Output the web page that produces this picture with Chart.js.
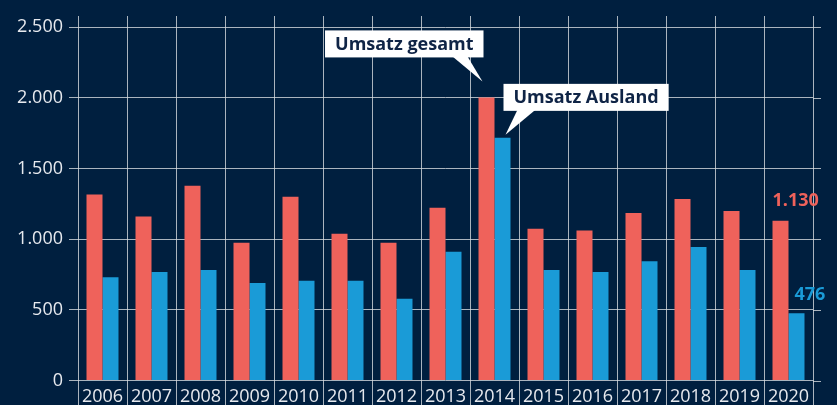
<!DOCTYPE html>
<html lang="de">
<head>
<meta charset="utf-8">
<title>Umsatz gesamt / Umsatz Ausland 2006–2020</title>
<script src="https://cdn.jsdelivr.net/npm/chart.js@4/dist/chart.umd.min.js"></script>
<style>
  html, body { margin: 0; padding: 0; background: #001f3f; }
  #wrap { position: relative; width: 837px; height: 405px; }
</style>
</head>
<body>
<div id="wrap"><canvas id="chart"></canvas></div>
<script>
// data
const years = ['2006', '2007', '2008', '2009', '2010', '2011', '2012', '2013',
               '2014', '2015', '2016', '2017', '2018', '2019', '2020'];
const totalRevenue   = [1315, 1160, 1378, 975, 1300, 1038, 975, 1222, 2002, 1074, 1060, 1185, 1284, 1199, 1130];
const foreignRevenue = [ 731,  767,  781, 690,  706,  706, 578,  911, 1716,  781,  767,  843,  944,  781,  476];
const seriesNames = ['Umsatz gesamt', 'Umsatz Ausland'];
const yTicks = [0, 500, 1000, 1500, 2000, 2500];

const RED = '#ef625b';
const BLUE = '#1a9bd7';
const GRID = 'rgba(212,217,223,0.8)';
const TEXT = '#e6e9ee';
const NAVY = '#0f2446';
const FONT = '"Open Sans", "DejaVu Sans", sans-serif';

// 1.130 style thousands separator
const fmt = v => String(v).replace(/\B(?=(\d{3})+(?!\d))/g, '.');

// extends grid lines past the plot area, draws callouts and end labels
const decorations = {
  id: 'decorations',
  afterDraw(chart) {
    const { ctx, chartArea: area, scales: { x, y } } = chart;
    const half = (x.getPixelForValue(1) - x.getPixelForValue(0)) / 2;

    ctx.save();
    ctx.strokeStyle = GRID;
    ctx.lineWidth = 1;
    // vertical lines run a bit above the top tick and down to the bottom edge
    for (let i = 0; i <= years.length; i++) {
      const px = Math.round(x.getPixelForValue(i) - half) + 0.5;
      ctx.beginPath();
      ctx.moveTo(px, area.top - 11);
      ctx.lineTo(px, area.top);
      ctx.moveTo(px, area.bottom);
      ctx.lineTo(px, chart.height);
      ctx.stroke();
    }
    // horizontal lines poke out on the right
    for (const t of yTicks) {
      const py = Math.round(y.getPixelForValue(t)) + 0.5;
      ctx.beginPath();
      ctx.moveTo(area.right, py);
      ctx.lineTo(area.right + 8, py);
      ctx.stroke();
    }

    const redBars = chart.getDatasetMeta(0).data;
    const blueBars = chart.getDatasetMeta(1).data;
    const peak = totalRevenue.indexOf(Math.max(...totalRevenue));

    ctx.font = `bold 18px ${FONT}`;
    const callout = (text, tipX, tipY, anchorRight, baseA, baseB) => {
      const w = ctx.measureText(text).width + 20;
      const bottom = tipY - 24, top = bottom - 27;
      const left = anchorRight ? tipX + 1 - w : tipX - 2;
      ctx.fillStyle = '#ffffff';
      ctx.fillRect(left, top, w, 27);
      ctx.beginPath();
      ctx.moveTo(tipX + baseA, bottom - 1);
      ctx.lineTo(tipX, tipY);
      ctx.lineTo(tipX + baseB, bottom - 1);
      ctx.closePath();
      ctx.fill();
      ctx.fillStyle = NAVY;
      ctx.textAlign = 'left';
      ctx.textBaseline = 'middle';
      ctx.fillText(text, left + 10, top + 14);
    };
    const r = redBars[peak], b = blueBars[peak];
    callout(seriesNames[0], r.x - 4, r.y - 16, true, -30, -15);
    callout(seriesNames[1], b.x + 3, b.y - 3, false, 12, 30);

    // values of the last year
    const last = years.length - 1;
    ctx.textAlign = 'left';
    ctx.textBaseline = 'middle';
    ctx.fillStyle = RED;
    ctx.fillText(fmt(totalRevenue[last]), redBars[last].x - 8, redBars[last].y - 20);
    ctx.fillStyle = BLUE;
    ctx.fillText(fmt(foreignRevenue[last]), blueBars[last].x - 2, blueBars[last].y - 18);
    ctx.restore();
  }
};

new Chart(document.getElementById('chart'), {
  type: 'bar',
  data: {
    labels: years,
    datasets: [
      { label: seriesNames[0], data: totalRevenue, backgroundColor: RED },
      { label: seriesNames[1], data: foreignRevenue, backgroundColor: BLUE }
    ]
  },
  options: {
    responsive: true,
    maintainAspectRatio: false,
    animation: false,
    layout: { padding: { top: 27, right: 24, left: 0, bottom: 0 } },
    plugins: { legend: { display: false }, tooltip: { enabled: false } },
    datasets: { bar: { categoryPercentage: 0.653, barPercentage: 1.0 } },
    scales: {
      x: {
        grid: { offset: true, color: GRID, lineWidth: 1, drawTicks: false },
        border: { display: false },
        ticks: { color: TEXT, font: { family: FONT, size: 18 }, padding: 6, maxRotation: 0, autoSkip: false },
        afterFit: s => { s.height = 24.5; }
      },
      y: {
        min: 0,
        max: 2500,
        afterBuildTicks: s => { s.ticks = yTicks.map(v => ({ value: v })); },
        grid: { color: GRID, lineWidth: 1, tickLength: 9 },
        border: { display: false },
        ticks: { color: TEXT, font: { family: FONT, size: 18 }, padding: 6, callback: v => fmt(v) },
        afterFit: s => { s.width = 78; }
      }
    }
  },
  plugins: [decorations]
});
</script>
</body>
</html>
